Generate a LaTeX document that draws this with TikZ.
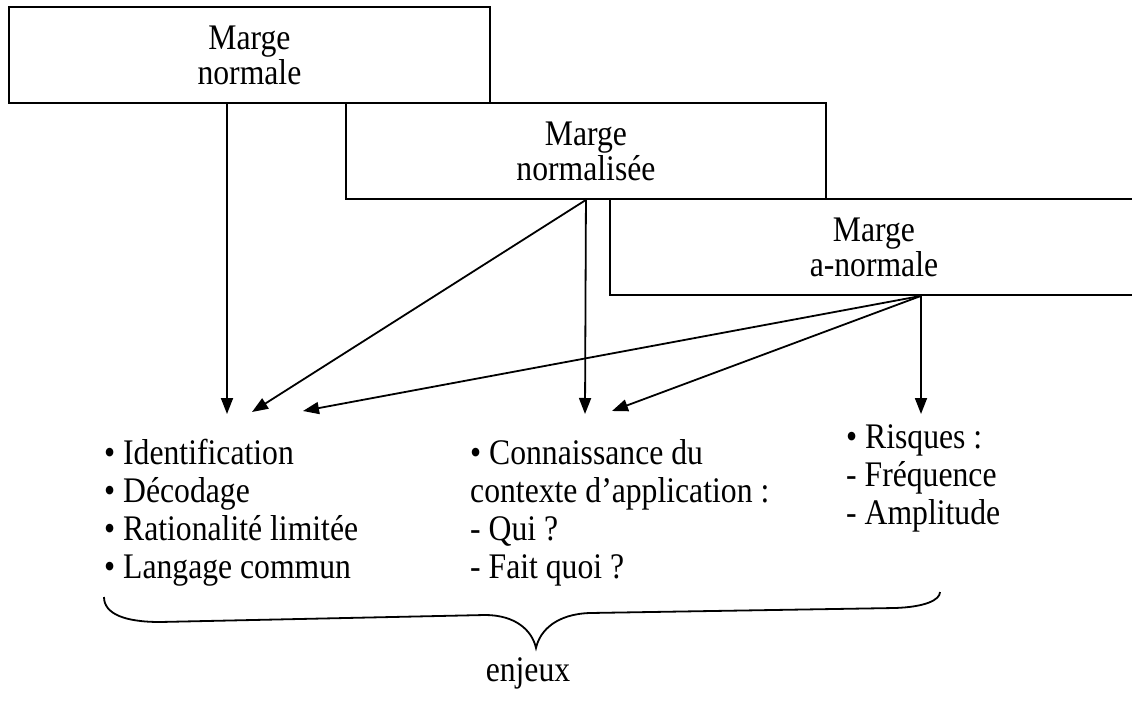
\documentclass[tikz,border=0pt]{standalone}
\usepackage{fontspec}
\setmainfont{Liberation Serif}[FakeStretch=0.88]
\usetikzlibrary{arrows.meta,calc}
\begin{document}
\begin{tikzpicture}[x=1pt,y=-1pt,
  box/.style={draw, line width=1.9pt, fill=white, anchor=north west,
    minimum width=#1, minimum height=96pt, inner sep=0pt, align=center,
    font=\fontsize{36}{35}\selectfont},
  arr/.style={line width=1.8pt, -{Triangle[length=16pt,width=12pt]}},
  list/.style={anchor=north west, inner sep=0pt, align=left,
    font=\fontsize{36}{38}\selectfont},
  brace/.style={line width=1.8pt}]
\useasboundingbox (0,0) rectangle (1132,701);
\clip (0,0) rectangle (1132,701);
\fill[white] (0,0) rectangle (1132,701);
\node[box=481pt] (b1) at (8,6) {Marge\\normale};
\node[box=480pt] (b2) at (345,102) {Marge\\normalisée};
\node[box=528pt] (b3) at (609,198) {Marge\\a-normale};
\coordinate (t1) at (227,414);
\coordinate (t2) at (252,412);
\coordinate (t3) at (303,411);
\coordinate (t4) at (585,414);
\coordinate (t5) at (612,411);
\coordinate (t6) at (921,414);
\draw[arr] (b1.south -| t1) -- (t1);
\draw[arr] (b2.south) -- (t2);
\draw[arr] (b2.south) -- (t4);
\draw[arr] (b3.south -| t6) -- (t3);
\draw[arr] (b3.south -| t6) -- (t5);
\draw[arr] (b3.south -| t6) -- (t6);
\node[list] (c1) at (104,439) {• Identification\\• Décodage\\• Rationalité limitée\\• Langage commun};
\node[list] (c2) at (470,439) {• Connaissance du\\contexte d’application :\\- Qui ?\\- Fait quoi ?};
\node[list] (c3) at (846,424) {• Risques :\\- Fréquence\\- Amplitude};
\draw[brace] (104,597) .. controls (104,614) and (125,622) .. (160,622)
  -- (485,615) .. controls (515,615) and (532,630) .. (536,648)
  .. controls (540,630) and (557,614) .. (590,613)
  -- (895,608) .. controls (925,607) and (940,600) .. (940,592);
\node[font=\fontsize{36}{38}\selectfont] (enj) at (528,673) {enjeux};
\end{tikzpicture}
\end{document}
